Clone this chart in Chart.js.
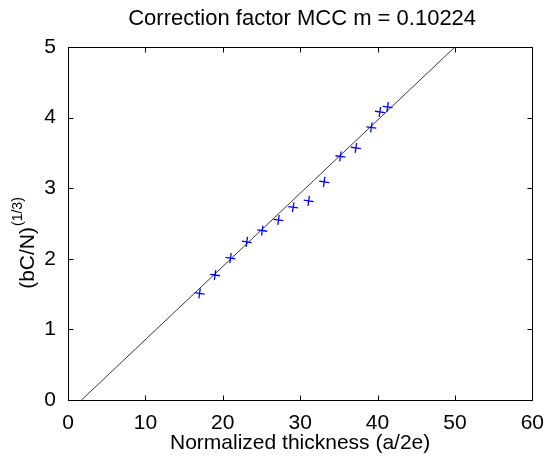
<!DOCTYPE html>
<html>
<head>
<meta charset="utf-8">
<script src="https://cdn.jsdelivr.net/npm/chart.js@4"></script>
<style>
  html, body { margin: 0; padding: 0; background: #fff; }
  #chart { display: block; }
</style>
</head>
<body>
<canvas id="chart" width="547" height="459"></canvas>
<script>
// values
const thickness = [17.0, 19.0, 21.0, 23.1, 25.1, 27.2, 29.1, 31.1, 33.1, 35.2, 37.2, 39.2, 40.3, 41.3];
const rootValue = [1.51, 1.77, 2.01, 2.24, 2.40, 2.55, 2.73, 2.82, 3.09, 3.45, 3.57, 3.86, 4.08, 4.15];
const fitX = [1.75, 50.0];
const fitY = [0, 5];
const xTicks = [0, 10, 20, 30, 40, 50, 60];
const yTicks = [0, 1, 2, 3, 4, 5];

const titleText = 'Correction factor MCC m = 0.10224';
const xTitle = 'Normalized thickness (a/2e)';
const yTitleMain = '(bC/N)';
const yTitleSup = '(1/3)';

const FONT = 'Liberation Sans, Arial, Helvetica, sans-serif';

// box round the axes with inward ticks, matlab style, plus the titles
const framePlugin = {
  id: 'frame',
  afterDraw(chart) {
    const ctx = chart.ctx;
    const a = chart.chartArea;
    const xs = chart.scales.x, ys = chart.scales.y;
    const L = Math.round(a.left) + 0.5, R = Math.round(a.right) + 0.5;
    const T = Math.round(a.top) + 0.5, B = Math.round(a.bottom) + 0.5;
    ctx.save();
    ctx.strokeStyle = '#000';
    ctx.lineWidth = 1;
    ctx.strokeRect(L, T, R - L, B - T);
    ctx.beginPath();
    const len = 5;
    xTicks.forEach(v => {
      const px = Math.round(xs.getPixelForValue(v)) + 0.5;
      ctx.moveTo(px, B); ctx.lineTo(px, B - len);
      ctx.moveTo(px, T); ctx.lineTo(px, T + len);
    });
    yTicks.forEach(v => {
      const py = Math.round(ys.getPixelForValue(v)) + 0.5;
      ctx.moveTo(L, py); ctx.lineTo(L + len, py);
      ctx.moveTo(R, py); ctx.lineTo(R - len, py);
    });
    ctx.stroke();

    ctx.fillStyle = '#000';
    // main title centred over the axes
    ctx.font = '22px ' + FONT;
    ctx.textAlign = 'center';
    ctx.textBaseline = 'middle';
    ctx.fillText(titleText, (a.left + a.right) / 2 + 2, 19);

    // y title with superscript
    ctx.textBaseline = 'alphabetic';
    ctx.textAlign = 'left';
    ctx.font = '21px ' + FONT;
    const w1 = ctx.measureText(yTitleMain).width;
    ctx.font = '14px ' + FONT;
    const w2 = ctx.measureText(yTitleSup).width;
    ctx.translate(34, (a.top + a.bottom) / 2 + 20);
    ctx.rotate(-Math.PI / 2);
    const x0 = -(w1 + w2) / 2;
    ctx.font = '21px ' + FONT;
    ctx.fillText(yTitleMain, x0, 0);
    ctx.font = '14px ' + FONT;
    ctx.fillText(yTitleSup, x0 + w1 + 1, -12);
    ctx.restore();
  }
};

new Chart(document.getElementById('chart'), {
  type: 'scatter',
  data: {
    datasets: [
      {
        label: 'fit',
        data: fitX.map((x, i) => ({ x: x, y: fitY[i] })),
        showLine: true,
        borderColor: '#222',
        borderWidth: 0.9,
        pointRadius: 0,
        order: 2
      },
      {
        label: 'measured',
        data: thickness.map((x, i) => ({ x: x, y: rootValue[i] })),
        pointStyle: 'cross',
        rotation: 8,
        pointRadius: 5,
        pointBorderColor: '#0000ff',
        pointBorderWidth: 1.3,
        showLine: false,
        order: 1
      }
    ]
  },
  options: {
    responsive: false,
    animation: false,
    devicePixelRatio: 1,
    layout: { padding: { left: 0, right: 14, top: 47, bottom: 0 } },
    plugins: {
      legend: { display: false },
      tooltip: { enabled: false },
      title: { display: false }
    },
    scales: {
      x: {
        type: 'linear',
        min: 0, max: 60,
        afterBuildTicks: s => { s.ticks = xTicks.map(v => ({ value: v })); },
        afterFit: s => { s.height = 59; },
        grid: { display: false },
        border: { display: false },
        ticks: { color: '#000', padding: 3, font: { family: FONT, size: 21 } },
        title: {
          display: true,
          text: xTitle,
          color: '#000',
          font: { family: FONT, size: 21 },
          padding: { top: 0, bottom: 3 }
        }
      },
      y: {
        type: 'linear',
        min: 0, max: 5,
        afterBuildTicks: s => { s.ticks = yTicks.map(v => ({ value: v })); },
        afterFit: s => { s.width = 68; },
        grid: { display: false },
        border: { display: false },
        ticks: { color: '#000', padding: 4, font: { family: FONT, size: 21 } }
      }
    }
  },
  plugins: [framePlugin]
});
</script>
</body>
</html>
